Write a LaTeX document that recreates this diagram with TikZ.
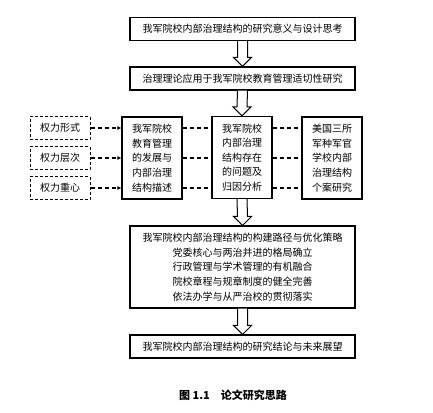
\documentclass[tikz,border=0pt]{standalone}
\usepackage{fontspec}
\newfontfamily\cjk{Noto Sans CJK SC}
\usetikzlibrary{calc,arrows.meta}

% hollow block arrow from the bottom of one box to the top of the next
\newcommand{\blockarrow}[2]{%
  \draw[line width=1pt,fill=white,line join=miter]
    ($(#1.south)+(-5,0)$) -- ($(#2.north)+(-5,-9)$) -- ++(-4,0) -- (#2.north)
    -- ($(#2.north)+(9,-9)$) -- ++(-4,0) -- ($(#1.south)+(5,0)$);}

\tikzset{
  txt/.style={font=\cjk\fontsize{10}{14.6}\selectfont},
  widebox/.style={txt,draw,line width=1.1pt,fill=white,minimum width=225pt,
    minimum height=23pt,inner sep=0pt,align=center},
  colbox/.style={txt,draw,line width=1.1pt,fill=white,minimum width=60pt,
    minimum height=82pt,inner sep=0pt,align=center},
  powbox/.style={txt,draw,line width=1pt,dash pattern=on 3pt off 2pt,
    minimum width=60pt,minimum height=23pt,inner sep=0pt},
  dashlink/.style={line width=1.1pt,dash pattern=on 4pt off 3pt},
}

\begin{document}
\begin{tikzpicture}[x=1pt,y=-1pt]

    % page frame
    \useasboundingbox (0,0) rectangle (433,412);

    % main chain
    \node[widebox] (meaning) at (242.5,29) {我军院校内部治理结构的研究意义与设计思考};
    \node[widebox] (theory) at (242.5,78.5) {治理理论应用于我军院校教育管理适切性研究};

    % power boxes
    \node[powbox] (form) at (60,128) {权力形式};
    \node[powbox] (level) at (60,158) {权力层次};
    \node[powbox] (focus) at (60,188) {权力重心};

    % three columns
    \node[colbox] (history) at (152,158) {我军院校\\教育管理\\的发展与\\内部治理\\结构描述};
    \node[colbox] (problem) at (242,157.5) {我军院校\\内部治理\\结构存在\\的问题及\\归因分析};
    \node[colbox] (usa) at (332,158) {美国三所\\军种军官\\学校内部\\治理结构\\个案研究};

    \node[widebox,minimum height=82pt] (path) at (242.5,267)
      {我军院校内部治理结构的构建路径与优化策略\\
       党委核心与两治并进的格局确立\\
       行政管理与学术管理的有机融合\\
       院校章程与规章制度的健全完善\\
       依法办学与从严治校的贯彻落实};
    \node[widebox] (outlook) at (242.5,346.5) {我军院校内部治理结构的研究结论与未来展望};

    % block arrows
    \blockarrow{meaning}{theory}
    \blockarrow{theory}{problem}
    \blockarrow{problem}{path}
    \blockarrow{path}{outlook}

    % dashed links
    \foreach \p in {form,level,focus} {
      \draw[dashlink,-{Latex[length=4pt,width=4pt]}] (\p.east) -- (\p.east -| history.west);
      \draw[dashlink] (history.east |- \p) -- (problem.west |- \p);
      \draw[dashlink] (problem.east |- \p) -- (usa.west |- \p);
    }

    % caption
    \node[font=\cjk\bfseries\fontsize{11}{13}\selectfont] (cap) at (233,395) {图 1.1\quad 论文研究思路};

\end{tikzpicture}
\end{document}
